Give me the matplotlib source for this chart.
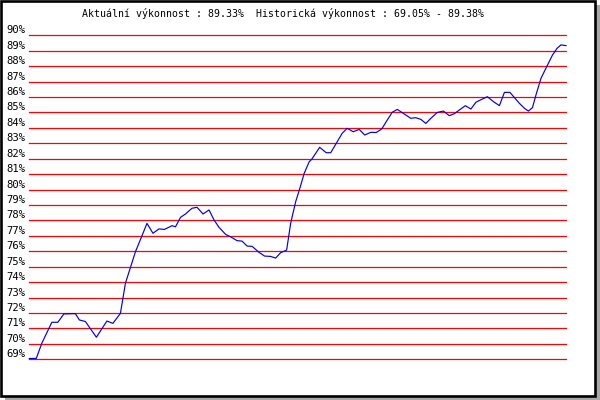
import matplotlib
matplotlib.use("Agg")
import matplotlib.pyplot as plt
from matplotlib.patches import Rectangle

title_text = "Aktuální výkonnost : 89.33%  Historická výkonnost : 69.05% - 89.38%"
y_ticks = list(range(69, 91))
y_labels = [f"{v}%" for v in y_ticks]

days = [0.0, 1.4, 2.5, 4.5, 5.7, 6.9, 9.2, 10.0, 11.2, 13.4, 15.5, 16.7, 18.2, 19.2,
        21.2, 22.5, 23.5, 24.7, 25.9, 27.0, 28.5, 29.2, 30.2, 31.2, 32.5, 33.5, 34.7,
        35.9, 36.9, 37.9, 39.2, 40.4, 41.5, 42.5, 43.5, 44.5, 45.9, 47.0, 48.2, 49.2,
        50.2, 51.4, 52.2, 53.2, 54.1, 54.9, 55.9, 56.4, 58.0, 59.3, 60.2, 61.5, 62.5,
        63.5, 64.7, 65.9, 67.0, 68.2, 69.3, 70.4, 71.5, 72.5, 73.5, 74.7, 76.2, 77.2,
        78.2, 79.2, 80.2, 81.5, 82.7, 83.9, 84.9, 85.9, 87.1, 88.2, 89.2, 90.5, 91.5,
        92.7, 93.9, 94.9, 96.0, 96.9, 97.9, 98.9, 99.7, 100.5, 101.2, 102.2, 103.5,
        104.5, 105.4, 106.2, 107.2]
performance = [69.05, 69.06, 70.04, 71.40, 71.40, 71.94, 71.96, 71.55, 71.45, 70.43,
               71.48, 71.33, 71.98, 73.93, 75.97, 77.00, 77.81, 77.17, 77.45, 77.42,
               77.66, 77.59, 78.20, 78.42, 78.79, 78.85, 78.42, 78.68, 78.03, 77.55,
               77.10, 76.90, 76.69, 76.66, 76.34, 76.32, 75.93, 75.69, 75.67, 75.56,
               75.91, 76.08, 77.81, 79.21, 80.15, 81.05, 81.80, 81.96, 82.74, 82.39,
               82.39, 83.10, 83.65, 83.97, 83.75, 83.90, 83.54, 83.71, 83.70, 83.93,
               84.51, 85.01, 85.20, 84.94, 84.62, 84.66, 84.55, 84.29, 84.62, 85.00,
               85.09, 84.79, 84.92, 85.16, 85.44, 85.22, 85.66, 85.87, 86.02, 85.70,
               85.44, 86.30, 86.30, 85.96, 85.59, 85.27, 85.09, 85.31, 86.13, 87.21,
               88.07, 88.72, 89.15, 89.38, 89.33]

W, H = 600, 400
fig = plt.figure(figsize=(6, 4), dpi=100)
fig.patch.set_facecolor("white")

# shadow and frame
fig.patches.append(Rectangle((5 / W, 0), 1 - 5 / W, 1 - 5 / H, transform=fig.transFigure,
                             facecolor="#a8a8a8", edgecolor="none", zorder=0))
fig.patches.append(Rectangle((1.25 / W, 1 - 395.5 / H), 593.5 / W, 394.2 / H,
                             transform=fig.transFigure, facecolor="white",
                             edgecolor="black", linewidth=1.9, zorder=1))

left, right = 29.3, 566.0
top, bottom = 35.3, 359.3
ax = fig.add_axes([left / W, 1 - bottom / H, (right - left) / W, (bottom - top) / H])
ax.set_zorder(5)
ax.set_facecolor("none")
ax.set_xlim(days[0], days[-1])
ax.set_ylim(y_ticks[0], y_ticks[-1])
for s in ax.spines.values():
    s.set_visible(False)
ax.set_xticks([])
ax.set_yticks([])

for v, lab in zip(y_ticks, y_labels):
    ax.axhline(v, color="#ff0000", linewidth=0.9, clip_on=False, zorder=1)
    ax.annotate(lab, xy=(0, v), xycoords=("axes fraction", "data"),
                xytext=(-3, 0), textcoords="offset points", ha="right", va="bottom",
                fontsize=7.6, family="DejaVu Sans Mono", color="black")

ax.plot(days, performance, color="#0000ee", linewidth=0.85, clip_on=False, zorder=3)

fig.text(283.5 / W, 1 - 13.5 / H, title_text, ha="center", va="center",
         fontsize=7.1, family="DejaVu Sans Mono", color="black", zorder=6)

fig.savefig("out.png", dpi=100, facecolor=fig.get_facecolor())
